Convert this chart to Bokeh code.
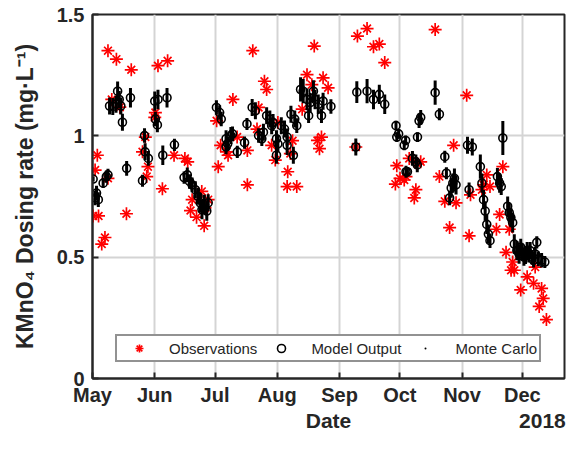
import pandas as pd
from bokeh.plotting import figure
from bokeh.models import (Range1d, FixedTicker, NumeralTickFormatter, DatetimeTickFormatter,
                          DatetimeAxis, Legend, LegendItem, ColumnDataSource)
from bokeh.embed import file_html
from bokeh.resources import INLINE

# ---------------- data (days since 2018-05-01) ----------------
obs_day = [0.3, 1.3, 2.4, 3.0, 4.6, 6.2, 7.7, 7.7, 9.6, 11.9, 13.6, 16.9, 19.3, 24.9, 26.3, 27.0,
           27.6, 31.0, 31.3, 32.6, 34.8, 37.4, 40.6, 46.0, 47.4, 48.8, 49.6, 51.8, 54.4, 55.6, 56.0,
           57.6, 61.8, 62.6, 63.8, 66.7, 67.5, 69.9, 72.0, 77.1, 77.1, 79.8, 81.9, 82.7, 85.6, 86.7,
           89.2, 91.0, 92.3, 96.9, 97.2, 98.5, 99.6, 101.7, 104.4, 106.8, 109.2, 110.4, 112.0, 113.0,
           114.0, 114.8, 117.3, 131.1, 131.9, 136.7, 139.9, 142.8, 145.5, 150.8, 151.5, 153.1, 155.2,
           156.1, 157.7, 160.2, 161.0, 161.7, 163.4, 170.6, 172.7, 175.4, 177.8, 179.8, 181.0, 186.3,
           187.5, 188.2, 193.9, 194.7, 196.3, 197.9, 201.1, 202.7, 204.3, 205.9, 207.5, 208.4, 209.2,
           210.0, 213.2, 216.4, 219.6, 220.4, 222.4, 223.6, 224.4, 226.0]
obs_val = [0.67, 0.859, 0.92, 0.67, 0.554, 0.581, 0.825, 1.351, 1.15, 1.316, 1.118, 0.679, 1.272, 0.934,
           0.995, 0.832, 0.873, 1.076, 1.096, 1.289, 0.782, 1.309, 0.92, 0.907, 0.893, 0.692, 0.737,
           0.665, 0.771, 0.629, 0.703, 0.737, 1.062, 0.873, 0.961, 0.934, 0.92, 1.15, 0.995, 0.94,
           0.798, 1.351, 1.028, 1.117, 1.225, 1.191, 0.961, 0.90, 1.055, 0.791, 0.852, 0.927, 0.98,
           0.791, 1.11, 1.252, 1.211, 1.37, 0.981, 0.947, 0.995, 1.239, 1.198, 0.954, 1.411, 1.442,
           1.367, 1.378, 1.302, 0.801, 0.877, 0.825, 0.818, 0.832, 0.907, 0.744, 0.778, 0.886, 0.893,
           1.438, 0.832, 0.730, 0.622, 0.961, 0.724, 1.167, 0.588, 0.757, 0.778, 0.798, 0.839, 0.791,
           0.615, 0.676, 0.873, 0.520, 0.615, 0.446, 0.480, 0.446, 0.365, 0.419, 0.392, 0.459, 0.297,
           0.371, 0.330, 0.243]

mod_day = [0.3, 1.3, 2.0, 2.9, 5.3, 6.9, 7.7, 8.5, 10.1, 11.7, 12.5, 13.3, 14.1, 14.9, 17.0, 18.9,
           24.9, 25.9, 26.2, 27.8, 31.0, 31.3, 32.3, 32.6, 35.0, 37.1, 40.8, 45.6, 47.2, 48.3, 49.6,
           51.2, 52.5, 53.6, 54.5, 55.7, 56.9, 57.6, 61.7, 63.3, 64.1, 66.5, 66.5, 67.3, 68.9, 69.7,
           72.1, 75.7, 76.9, 79.5, 81.1, 82.7, 84.3, 85.1, 86.7, 88.3, 89.2, 89.9, 91.6, 91.6, 92.3,
           94.0, 95.6, 96.9, 96.9, 98.8, 100.0, 100.7, 101.7, 103.6, 104.9, 106.8, 107.6, 108.4, 110.0,
           110.8, 112.4, 114.0, 114.8, 118.7, 131.1, 131.6, 136.7, 139.9, 142.8, 145.5, 151.1, 151.5,
           152.4, 155.2, 155.9, 156.1, 156.8, 159.3, 161.0, 161.7, 161.8, 162.6, 163.4, 170.6, 172.7,
           175.4, 176.2, 177.8, 178.6, 179.4, 180.2, 181.0, 186.7, 187.5, 189.1, 193.1, 193.9, 194.7,
           195.5, 196.3, 197.1, 197.9, 201.6, 202.7, 203.5, 204.3, 206.7, 207.5, 208.3, 209.2, 210.0,
           211.3, 212.4, 213.2, 214.0, 214.8, 215.6, 216.4, 217.2, 217.9, 218.8, 219.6, 220.4, 221.2,
           222.0, 223.6, 225.2]
mod_val = [0.822, 0.744, 0.764, 0.737, 0.805, 0.832, 0.839, 1.123, 1.121, 1.13, 1.184, 1.15, 1.123,
           1.056, 0.866, 1.157, 0.815, 1.001, 0.934, 0.907, 1.143, 1.069, 1.045, 1.15, 0.92, 1.157,
           0.963, 0.828, 0.839, 0.812, 0.798, 0.778, 0.751, 0.724, 0.696, 0.717, 0.69, 0.724, 1.117,
           1.096, 1.069, 0.988, 0.954, 0.967, 1.001, 1.008, 0.934, 0.972, 1.049, 1.117, 1.103, 1.001,
           0.988, 1.015, 1.083, 1.069, 1.042, 1.055, 0.988, 0.92, 0.967, 1.042, 1.028, 0.995, 0.961,
           1.089, 0.92, 1.069, 1.042, 1.191, 1.184, 1.15, 1.083, 1.137, 1.184, 1.15, 1.13, 1.083,
           1.143, 1.121, 0.954, 1.18, 1.184, 1.15, 1.171, 1.13, 1.042, 0.995, 1.008, 0.961, 0.981,
           0.852, 0.852, 0.907, 0.893, 0.88, 0.995, 1.062, 1.076, 1.178, 1.089, 0.914, 0.846, 0.744,
           0.785, 0.805, 0.825, 0.798, 0.961, 0.778, 0.954, 0.873, 0.805, 0.737, 0.69, 0.635, 0.595,
           0.568, 0.832, 0.805, 0.791, 0.991, 0.71, 0.683, 0.663, 0.642, 0.554, 0.527, 0.513, 0.541,
           0.52, 0.5, 0.507, 0.527, 0.513, 0.527, 0.5, 0.487, 0.513, 0.561, 0.493, 0.487, 0.48]
# Monte Carlo spread (half range) around each model output
mc_half = [0.01, 0.03, 0.03, 0.03, 0.02, 0.025, 0.025, 0.035, 0.035, 0.035, 0.04, 0.035, 0.035,
           0.035, 0.03, 0.04, 0.025, 0.03, 0.035, 0.03, 0.04, 0.03, 0.03, 0.04, 0.04, 0.04, 0.025,
           0.025, 0.03, 0.03, 0.03, 0.035, 0.035, 0.04, 0.04, 0.04, 0.04, 0.035, 0.03, 0.03, 0.03,
           0.035, 0.03, 0.03, 0.035, 0.03, 0.025, 0.025, 0.025, 0.035, 0.035, 0.03, 0.03, 0.035,
           0.035, 0.035, 0.035, 0.035, 0.035, 0.035, 0.035, 0.035, 0.035, 0.035, 0.04, 0.035, 0.035,
           0.035, 0.03, 0.05, 0.05, 0.045, 0.03, 0.04, 0.045, 0.04, 0.04, 0.03, 0.035, 0.03, 0.035,
           0.045, 0.05, 0.04, 0.04, 0.04, 0.02, 0.02, 0.02, 0.02, 0.02, 0.025, 0.02, 0.03, 0.03, 0.03,
           0.02, 0.03, 0.03, 0.05, 0.025, 0.025, 0.025, 0.03, 0.04, 0.04, 0.04, 0.04, 0.035, 0.03,
           0.035, 0.05, 0.04, 0.04, 0.04, 0.04, 0.04, 0.03, 0.035, 0.04, 0.035, 0.07, 0.04, 0.04,
           0.04, 0.04, 0.04, 0.04, 0.04, 0.035, 0.035, 0.035, 0.035, 0.035, 0.035, 0.035, 0.03, 0.03,
           0.03, 0.025, 0.03, 0.03, 0.025]

month_ticks = ["2018-05-01", "2018-06-01", "2018-07-01", "2018-08-01", "2018-09-01",
               "2018-10-01", "2018-11-01", "2018-12-01"]
month_labels = ["May", "Jun", "Jul", "Aug", "Sep", "Oct", "Nov", "Dec"]
y_ticks = [0, 0.5, 1, 1.5]
x_start, x_end = "2018-05-01", "2018-12-22"
x_title = "Date"
year_text = "2018"
year_anchor = "2018-12-11"   # where the year caption sits (right end of the date axis)

# ---------------- build ----------------
base = pd.Timestamp(x_start)
obs_src = ColumnDataSource(dict(x=base + pd.to_timedelta(obs_day, unit="D"), y=obs_val))
mod_x = base + pd.to_timedelta(mod_day, unit="D")
mod_src = ColumnDataSource(dict(
    x=mod_x, y=mod_val,
    y0=[v - h for v, h in zip(mod_val, mc_half)],
    y1=[v + h for v, h in zip(mod_val, mc_half)]))

FONT = "Liberation Sans"
AX = "#262626"

p = figure(width=567, height=434, x_axis_type="datetime", output_backend="svg",
           toolbar_location=None,
           x_range=Range1d(pd.Timestamp(x_start), pd.Timestamp(x_end)),
           y_range=Range1d(0, 1.5),
           min_border_left=92, min_border_right=3, min_border_top=14, min_border_bottom=56)
p.outline_line_color = AX
p.outline_line_width = 2

def to_ms(t):
    return int(pd.Timestamp(t).value // 10**6)

tick_ms = [to_ms(t) for t in month_ticks]
xt = FixedTicker(ticks=tick_ms)
yt = FixedTicker(ticks=y_ticks)

def month_fmt():
    return DatetimeTickFormatter(microseconds="%b", milliseconds="%b", seconds="%b", minsec="%b",
                                 minutes="%b", hourmin="%b", hours="%b", days="%b", months="%b",
                                 years="%b")

p.xaxis.ticker = xt
p.xaxis.formatter = month_fmt()
p.xaxis.major_label_overrides = {ms: lab for ms, lab in zip(tick_ms, month_labels)}
p.yaxis.ticker = yt
p.yaxis.formatter = NumeralTickFormatter(format="0.[0]")

for ax in (p.xaxis[0], p.yaxis[0]):
    ax.axis_line_color = AX
    ax.axis_line_width = 2
    ax.major_tick_line_color = AX
    ax.major_tick_line_width = 2
    ax.major_tick_in = 6
    ax.major_tick_out = 0
    ax.minor_tick_line_color = None
    ax.minor_tick_in = 0
    ax.minor_tick_out = 0
    ax.major_label_text_font = FONT
    ax.major_label_text_font_style = "bold"
    ax.major_label_text_font_size = "20px"
    ax.major_label_text_color = AX
    ax.axis_label_text_font = FONT
    ax.axis_label_text_font_style = "bold"
    ax.axis_label_text_color = AX
p.xaxis.major_label_standoff = 5
p.yaxis.major_label_standoff = 8

p.yaxis.axis_label = "KMnO\u2084 Dosing rate (mg\u00b7L\u207b\u00b9)"
p.yaxis.axis_label_text_font_size = "23px"
p.yaxis.axis_label_standoff = 16

# second row under the month labels: "Date" centred, year at the right end
mid_ms = (to_ms(x_start) + to_ms(x_end)) // 2
yr_ms = to_ms(year_anchor)
row2 = DatetimeAxis(ticker=FixedTicker(ticks=[mid_ms, yr_ms]), formatter=month_fmt(),
                    major_label_overrides={mid_ms: x_title, yr_ms: year_text})
row2.axis_line_color = None
row2.major_tick_line_color = None
row2.minor_tick_line_color = None
row2.major_tick_in = 0
row2.major_tick_out = 0
row2.minor_tick_in = 0
row2.minor_tick_out = 0
row2.major_label_standoff = 0
row2.major_label_text_font = FONT
row2.major_label_text_font_style = "bold"
row2.major_label_text_font_size = "21px"
row2.major_label_text_color = AX
p.add_layout(row2, "below")

p.xgrid.ticker = xt
p.ygrid.ticker = yt
p.xgrid.grid_line_color = "#d4d4d4"
p.ygrid.grid_line_color = "#d4d4d4"
p.xgrid.grid_line_width = 2
p.ygrid.grid_line_width = 2

# observations: 8-armed asterisk (x + cross)
r_obs1 = p.scatter("x", "y", source=obs_src, marker="x", size=11, line_color="#ff0000", line_width=1.7)
r_obs2 = p.scatter("x", "y", source=obs_src, marker="cross", size=13, line_color="#ff0000", line_width=1.7)

# Monte Carlo spread
p.segment("x", "y0", "x", "y1", source=mod_src, line_color="black", line_width=3)
r_mc = p.scatter("x", "y", source=mod_src, marker="dot", size=8, fill_color="black",
                 line_color="black")
# model output
r_mod = p.scatter("x", "y", source=mod_src, marker="circle", size=8, fill_alpha=0,
                  line_color="black", line_width=1.6)

legend = Legend(items=[LegendItem(label="Observations", renderers=[r_obs1, r_obs2]),
                       LegendItem(label="Model Output", renderers=[r_mod]),
                       LegendItem(label="Monte Carlo", renderers=[r_mc])],
                orientation="horizontal", location=(23, 16))
legend.label_text_font = FONT
legend.label_text_font_size = "15px"
legend.label_text_color = AX
legend.border_line_color = AX
legend.border_line_width = 2
legend.background_fill_color = "white"
legend.background_fill_alpha = 1
legend.padding = 2
legend.margin = 0
legend.spacing = 4
legend.glyph_width = 40
legend.glyph_height = 20
legend.label_standoff = 10
legend.label_height = 20
p.add_layout(legend, "center")

open("out.html", "w").write(file_html(p, INLINE))
